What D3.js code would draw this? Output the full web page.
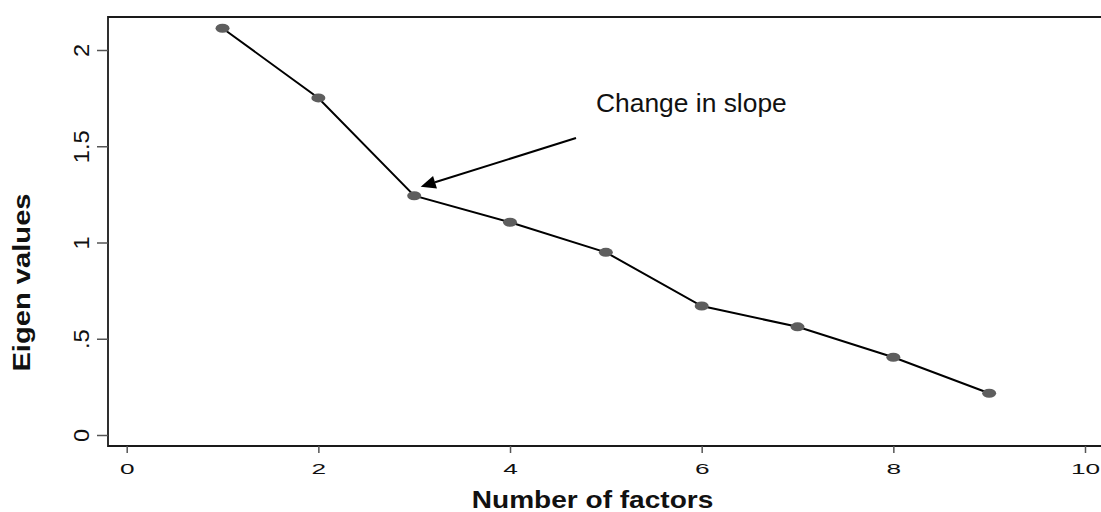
<!DOCTYPE html>
<html><head><meta charset="utf-8">
<script src="https://cdn.jsdelivr.net/npm/d3@7"></script>
<style>body{margin:0;background:#fff}svg{display:block}text{font-family:"Liberation Sans",Arial,sans-serif}</style>
</head><body>
<script>
const factors = [1,2,3,4,5,6,7,8,9];
const eigenValues = [2.113,1.751,1.243,1.105,0.949,0.670,0.562,0.404,0.217];
const xTicks = [0,2,4,6,8,10];
const yTicks = [0,0.5,1,1.5,2];
const yTickLabels = ["0",".5","1","1.5","2"];
const annotationText = "Change in slope";
const xTitle = "Number of factors", yTitle = "Eigen values";

const W=1101,H=512;
const svg=d3.select("body").append("svg").attr("width",W).attr("height",H);
const x=d3.scaleLinear().domain([0,10]).range([126.7,1085]);
const y=d3.scaleLinear().domain([0,2]).range([435,50]);
const frame={l:108,t:17,b:446,r:1110};

// frame (top, left, bottom)
svg.append("path").attr("d",`M${frame.r},${frame.t}H${frame.l}V${frame.b}H${frame.r}`)
  .attr("fill","none").attr("stroke","#1a1a1a").attr("stroke-width",1.8);

// x axis ticks
const xa=svg.append("g").attr("transform",`translate(0,${frame.b})`)
  .call(d3.axisBottom(x).tickValues(xTicks).tickSize(7).tickFormat(d3.format("d")));
xa.select(".domain").remove();
xa.selectAll(".tick line").attr("stroke","#555").attr("stroke-width",1.5);
xa.selectAll(".tick text").attr("fill","#111").attr("font-size",15).attr("y",0).attr("dy",0)
  .attr("transform",`translate(0,28) scale(1.75,1)`);

// y axis ticks
const ya=svg.append("g").attr("transform",`translate(${frame.l},0)`)
  .call(d3.axisLeft(y).tickValues(yTicks).tickSize(11).tickFormat((d,i)=>yTickLabels[i]));
ya.select(".domain").remove();
ya.selectAll(".tick line").attr("stroke","#555").attr("stroke-width",1.5);
ya.selectAll(".tick text").attr("fill","#111").attr("font-size",21.5).attr("x",0).attr("dy",0)
  .attr("text-anchor","middle")
  .attr("transform",`translate(-19,0) rotate(-90) scale(1.1,1)`);

// line
svg.append("path").datum(factors.map((f,i)=>[f,eigenValues[i]]))
  .attr("d",d3.line().x(d=>x(d[0])).y(d=>y(d[1])))
  .attr("fill","none").attr("stroke","#000").attr("stroke-width",2);
svg.selectAll("ellipse.pt").data(factors).join("ellipse").attr("class","pt")
  .attr("cx",(d)=>x(d)).attr("cy",(d,i)=>y(eigenValues[i]))
  .attr("rx",7).attr("ry",4.5).attr("fill","#5e5e5e");

// annotation arrow
const tipX=x(3)+6.5, tipY=y(eigenValues[2])-9;
const startX=576, startY=138;
const ang=Math.atan2(tipY-startY,tipX-startX);
const hl=15, hw=6.5;
const bx=tipX-hl*Math.cos(ang), by=tipY-hl*Math.sin(ang);
svg.append("line").attr("x1",startX).attr("y1",startY).attr("x2",bx).attr("y2",by)
  .attr("stroke","#000").attr("stroke-width",2);
svg.append("path").attr("d",`M${tipX},${tipY}L${bx+hw*Math.sin(ang)},${by-hw*Math.cos(ang)}L${bx-hw*Math.sin(ang)},${by+hw*Math.cos(ang)}Z`)
  .attr("fill","#000");
svg.append("text").attr("transform",`translate(596,112)`).attr("font-size",26.4).attr("fill","#111").text(annotationText);

// titles
svg.append("text").attr("transform",`translate(592.5,508) scale(1.22,1)`).attr("text-anchor","middle")
  .attr("font-size",23).attr("font-weight","bold").attr("fill","#111").text(xTitle);
svg.append("text").attr("transform",`translate(30,282.5) rotate(-90) scale(1.24,1)`).attr("text-anchor","middle")
  .attr("font-size",23.5).attr("font-weight","bold").attr("fill","#111").text(yTitle);
</script>
</body></html>
